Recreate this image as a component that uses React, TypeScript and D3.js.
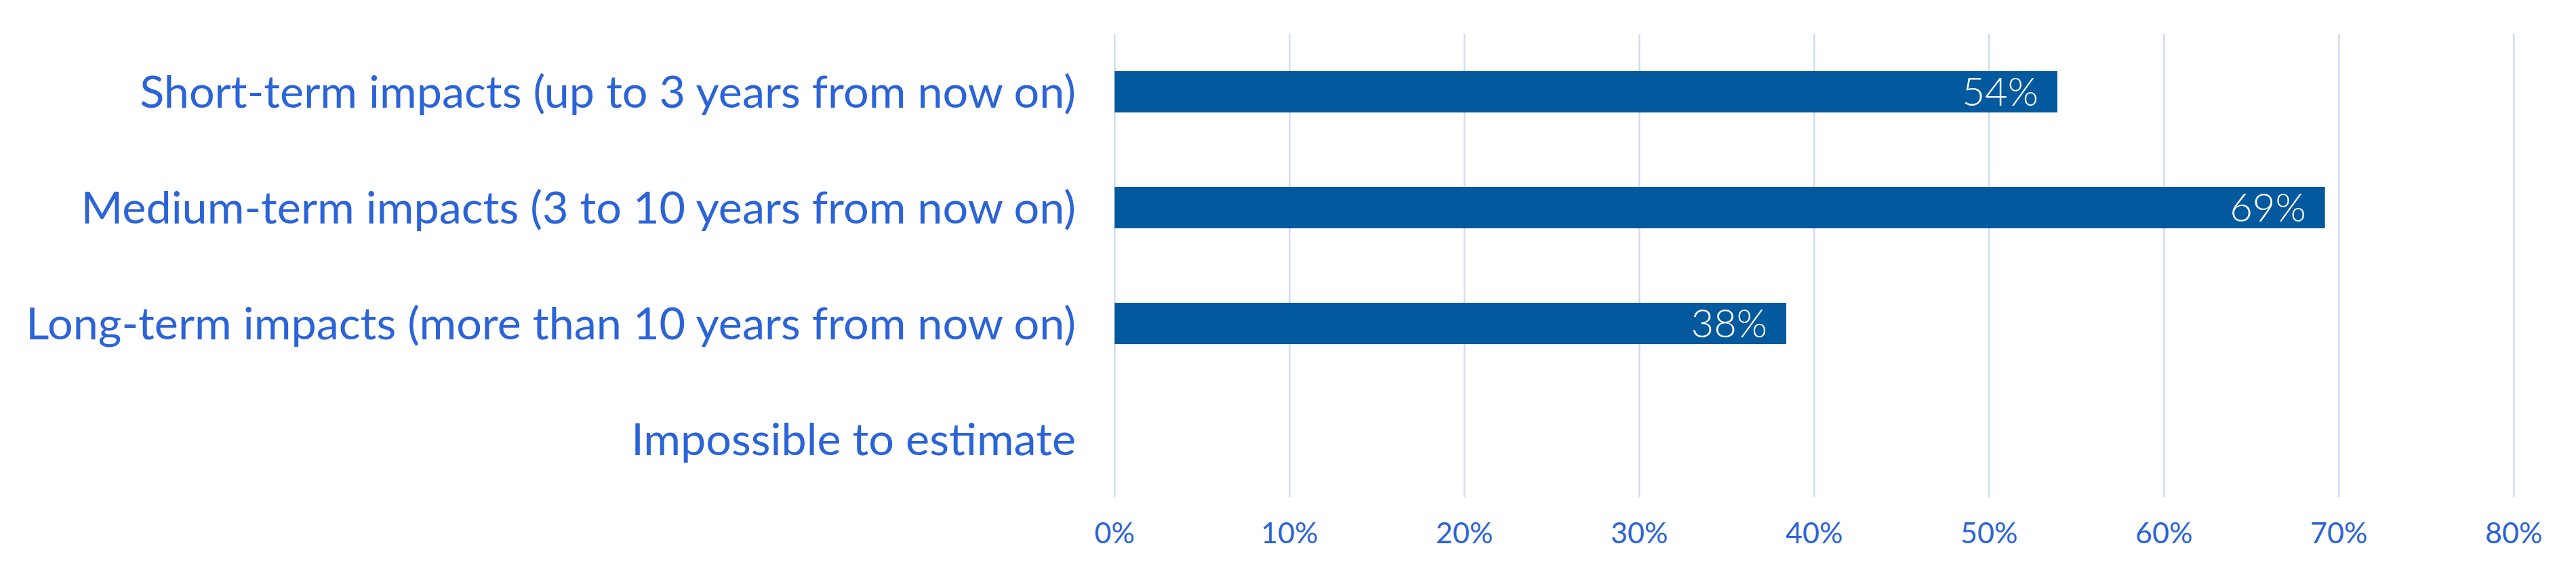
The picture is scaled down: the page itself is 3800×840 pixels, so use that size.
import { useEffect } from "react";
import * as d3 from "d3";

const categories = [
  "Short-term impacts (up to 3 years from now on)",
  "Medium-term impacts (3 to 10 years from now on)",
  "Long-term impacts (more than 10 years from now on)",
  "Impossible to estimate",
];
const values = [0.539, 0.692, 0.384, null];
const ticks = [0, 0.1, 0.2, 0.3, 0.4, 0.5, 0.6, 0.7, 0.8];

const W = 3800;
const H = 840;
const FONT = "Lato, 'Noto Sans', sans-serif";

const App = () => {
  useEffect(() => {
    document.body.style.margin = "0";
  }, []);

  const x = d3.scaleLinear().domain([0, 0.8]).range([1644.3, 3708.3]);
  const y = d3
    .scaleBand()
    .domain(categories)
    .range([50, 734])
    .paddingInner(0.643)
    .paddingOuter(0.3215);

  const pct = d3.format(".0%");

  return (
    <svg width={W} height={H} style={{ display: "block", background: "#fff" }}>
      {/* gridlines */}
      {ticks.map((t) => (
        <line
          key={"g" + t}
          x1={x(t)}
          x2={x(t)}
          y1={50}
          y2={734}
          stroke="#d1ddf4"
          strokeWidth={2.6}
        />
      ))}
      {/* bars */}
      {categories.map((c, i) =>
        values[i] == null ? null : (
          <g key={c}>
            <rect
              x={x(0)}
              y={y(c)}
              width={x(values[i] as number) - x(0)}
              height={y.bandwidth()}
              fill="#03599e"
            />
            <text
              x={x(values[i] as number) - 28}
              y={(y(c) as number) + y.bandwidth() / 2}
              dy="0.36em"
              textAnchor="end"
              fill="#fff"
              fontFamily={FONT}
              fontWeight={300}
              fontSize={58}
            >
              {pct(values[i] as number)}
            </text>
          </g>
        )
      )}
      {/* category labels */}
      {categories.map((c) => (
        <text
          key={"l" + c}
          x={1587}
          y={(y(c) as number) + y.bandwidth() / 2}
          dy="0.36em"
          textAnchor="end"
          fill="#2b63d8"
          fontFamily={FONT}
          fontSize={66.5}
        >
          {c}
        </text>
      ))}
      {/* tick labels */}
      {ticks.map((t) => (
        <text
          key={"t" + t}
          x={x(t)}
          y={802}
          textAnchor="middle"
          fill="#2b63d8"
          fontFamily={FONT}
          fontSize={43}
        >
          {pct(t)}
        </text>
      ))}
    </svg>
  );
};

export default App;
